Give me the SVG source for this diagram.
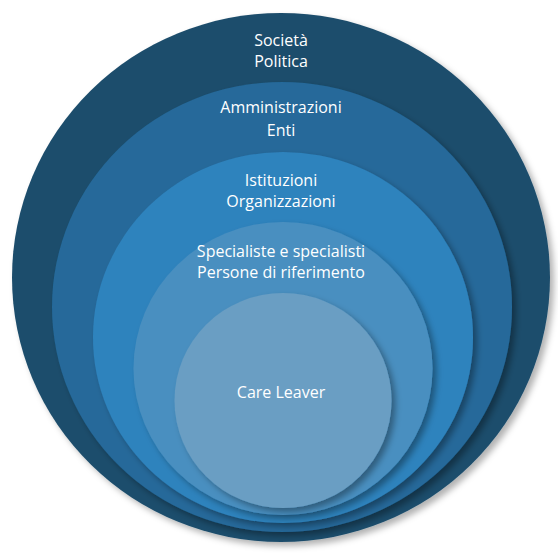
<svg xmlns="http://www.w3.org/2000/svg" width="558" height="554" viewBox="0 0 558 554">
<defs>
<filter id="sh" x="-10%" y="-10%" width="125%" height="125%">
<feDropShadow dx="4" dy="4" stdDeviation="3" flood-color="#000" flood-opacity="0.35"/>
</filter>
<filter id="shOuter" x="-10%" y="-10%" width="125%" height="125%">
<feDropShadow dx="4" dy="4" stdDeviation="3" flood-color="#000" flood-opacity="0.3"/>
</filter>
</defs>
<style>
text{font-family:"Open Sans","Liberation Sans",sans-serif;font-size:16px;fill:#ffffff;text-anchor:middle}
</style>
<rect width="558" height="554" fill="#ffffff"/>
<g id="societa">
<ellipse cx="281" cy="277.5" rx="269" ry="264.5" fill="#1f4e6c" filter="url(#shOuter)"/>
<text x="281" y="46">Società</text>
<text x="281" y="67">Politica</text>
</g>
<g id="amministrazioni">
<ellipse cx="282" cy="307" rx="230" ry="225" fill="#25699a" filter="url(#sh)"/>
<text x="281" y="113">Amministrazioni</text>
<text x="281" y="136">Enti</text>
</g>
<g id="istituzioni">
<ellipse cx="283" cy="337.5" rx="190" ry="185.5" fill="#2e83bd" filter="url(#sh)"/>
<text x="281" y="186">Istituzioni</text>
<text x="281" y="207">Organizzazioni</text>
</g>
<g id="specialisti">
<ellipse cx="283" cy="368.5" rx="149.5" ry="146.5" fill="#4a8fc0" filter="url(#sh)"/>
<text x="281" y="257">Specialiste e specialisti</text>
<text x="281" y="278">Persone di riferimento</text>
</g>
<g id="careleaver">
<ellipse cx="283" cy="400.5" rx="108.5" ry="107.5" fill="#6a9ec3" filter="url(#sh)"/>
<text x="281" y="398">Care Leaver</text>
</g>
<g id="connectors"/>
</svg>
